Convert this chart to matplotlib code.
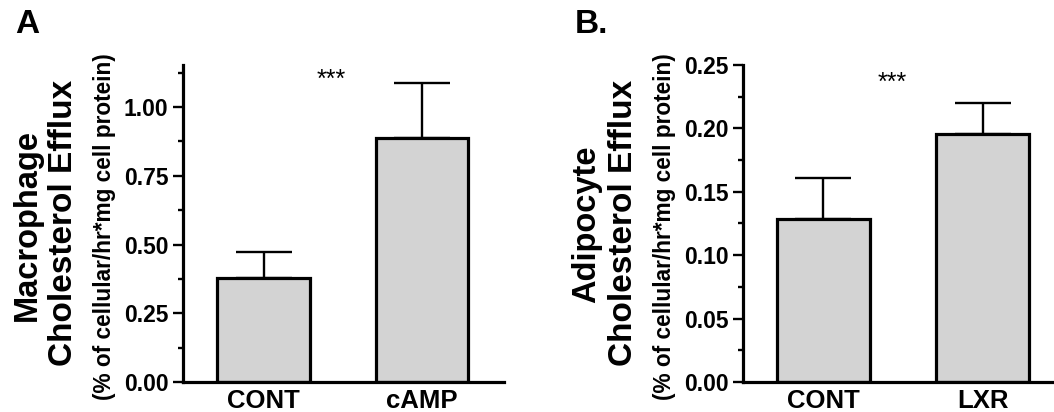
#!/usr/bin/env python3
# cholesterol efflux bar panels A and B

import matplotlib
matplotlib.use('Agg')
import matplotlib.pyplot as plt
from matplotlib.ticker import MultipleLocator, FormatStrFormatter

plt.rcParams['font.family'] = ['Liberation Sans', 'DejaVu Sans']

# panel A: macrophage
mac_groups = ['CONT', 'cAMP']
mac_mean = [0.38, 0.887]
mac_sem = [0.094, 0.200]

# panel B: adipocyte
adi_groups = ['CONT', 'LXR']
adi_mean = [0.1285, 0.1955]
adi_sem = [0.0325, 0.0245]

BAR_GREY = '#d3d3d3'


def draw_panel(ax, groups, means, sems, ylim, major, minor, xlim, star_xy):
    x = range(len(groups))
    ax.bar(x, means, width=0.585, color=BAR_GREY, edgecolor='black',
           linewidth=2.3, zorder=2)
    ax.errorbar(x, means, yerr=[[0] * len(sems), sems], fmt='none',
                ecolor='black', elinewidth=1.7, capsize=20.5, capthick=1.7,
                zorder=1)
    ax.set_xlim(*xlim)
    ax.set_ylim(*ylim)
    ax.set_xticks(list(x))
    ax.set_xticklabels(groups, fontsize=18.5, fontweight='bold')
    ax.tick_params(axis='x', length=0, pad=5)
    ax.yaxis.set_major_locator(MultipleLocator(major))
    ax.yaxis.set_minor_locator(MultipleLocator(minor))
    ax.yaxis.set_major_formatter(FormatStrFormatter('%.2f'))
    ax.tick_params(axis='y', which='major', length=7, width=1.7,
                   labelsize=16.5, pad=3.5)
    ax.tick_params(axis='y', which='minor', length=3.5, width=1.7)
    for lab in ax.get_yticklabels():
        lab.set_fontweight('bold')
    for side in ['top', 'right']:
        ax.spines[side].set_visible(False)
    for side in ['left', 'bottom']:
        ax.spines[side].set_linewidth(2.3)
    ax.text(star_xy[0], star_xy[1], '***', ha='center', va='center',
            fontsize=18)


def main():
    fig = plt.figure(figsize=(10.54, 4.12), dpi=100)

    ax_a = fig.add_axes([183 / 1054, 30 / 412, 321 / 1054, 317 / 412])
    draw_panel(ax_a, mac_groups, mac_mean, mac_sem, (0, 1.153), 0.25, 0.125,
               (-0.508, 1.517), (0.43, 1.1))

    ax_b = fig.add_axes([743 / 1054, 30 / 412, 310 / 1054, 317 / 412])
    draw_panel(ax_b, adi_groups, adi_mean, adi_sem, (0, 0.25), 0.05, 0.025,
               (-0.506, 1.443), (0.43, 0.236))

    # y labels, three lines each
    for off, name in [(0, 'Macrophage'), (560, 'Adipocyte')]:
        fig.text((off + 27) / 1054, 0.455, name, rotation=90, ha='center',
                 va='center', fontsize=23.5, fontweight='bold')
        fig.text((off + 64) / 1054, 0.46, 'Cholesterol Efflux', rotation=90,
                 ha='center', va='center', fontsize=24, fontweight='bold')
        fig.text((off + 105) / 1054, 0.45,
                 '(% of cellular/hr*mg cell protein)', rotation=90,
                 ha='center', va='center', fontsize=16.3, fontweight='bold')

    fig.text(15 / 1054, 1 - 33 / 412, 'A', fontsize=24, fontweight='bold')
    fig.text(575 / 1054, 1 - 33 / 412, 'B.', fontsize=24, fontweight='bold')

    fig.savefig('out.png', dpi=100)


if __name__ == "__main__":
    main()
